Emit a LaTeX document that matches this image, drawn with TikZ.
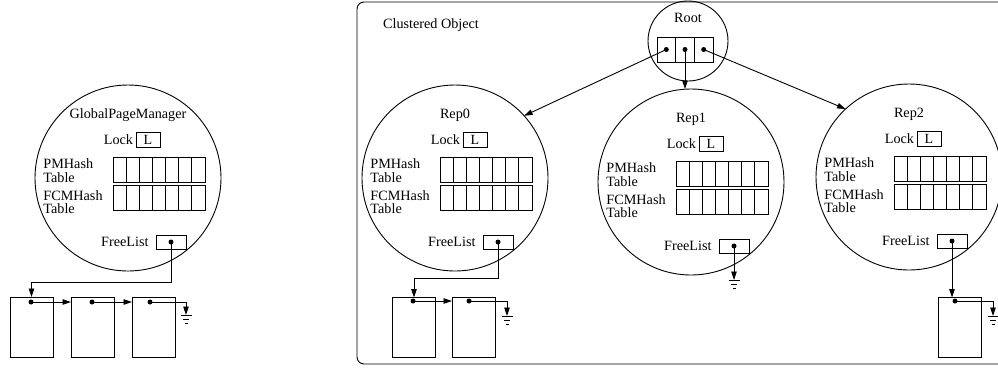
\documentclass[tikz,border=0pt]{standalone}
\usepackage{fontspec}
\setmainfont{Liberation Serif}
\usetikzlibrary{arrows.meta}
\newcommand\repmod[4]{%
\begin{scope}[shift={(#2,#3)}]
\node[modcirc] (#1) at (0,0) {};
\node[lbl] (#1-title) at (0,-63) {#4};
\node[lbox] (#1-L) at (20,-38) {L};
\node[lbl, anchor=east] (#1-lock) at ([xshift=-2.5pt]#1-L.west) {Lock};
\node[tbl] (#1-pm) at (31,-8.5) {};
\node[tbl] (#1-fcm) at (31,19.5) {};
\foreach \k in {1,...,6}{%
  \draw ([xshift=\k*13.143pt]#1-pm.south west) -- ([xshift=\k*13.143pt]#1-pm.north west);
  \draw ([xshift=\k*13.143pt]#1-fcm.south west) -- ([xshift=\k*13.143pt]#1-fcm.north west);}
\node[lbl, align=left, anchor=west] (#1-pmlbl) at (-85,-7.5) {PMHash\\Table};
\node[lbl, align=left, anchor=west] (#1-fcmlbl) at (-85,24) {FCMHash\\Table};
\node[flbox] (#1-fl) at (43,64) {};
\node[lbl, anchor=east] (#1-fltext) at ([xshift=-7pt]#1-fl.west) {FreeList};
\fill (#1-fl.center) circle (2.5);
\end{scope}}
\newcommand\gnd[1]{\draw (#1) ++(-5.5,0) -- ++(11,0) (#1) ++(-3,4) -- ++(6,0) (#1) ++(-1.5,8) -- ++(3,0);}
\begin{document}
\begin{tikzpicture}[x=1pt,y=-1pt, line width=0.9pt,
 lbl/.style={inner sep=0pt, font=\fontsize{14.2pt}{13.5pt}\selectfont},
 modcirc/.style={draw, circle, minimum size=186pt, inner sep=0pt, outer sep=0pt},
 lbox/.style={draw, minimum width=24pt, minimum height=15pt, inner sep=0pt, outer sep=0pt, font=\fontsize{14pt}{14pt}\selectfont},
 tbl/.style={draw, minimum width=92pt, minimum height=25pt, inner sep=0pt, outer sep=0pt},
 flbox/.style={draw, minimum width=30pt, minimum height=14pt, inner sep=0pt, outer sep=0pt},
 lstbox/.style={draw, minimum width=43pt, minimum height=60pt, inner sep=0pt, outer sep=0pt},
 cell/.style={draw, minimum width=18.7pt, minimum height=25pt, inner sep=0pt, outer sep=0pt},
 ptr/.style={-{Triangle[length=8.5pt,width=5.5pt]}}
]
\useasboundingbox (0,0) rectangle (998,368);
\clip (0,0) rectangle (998,368);
% clustered object frame
\draw[rounded corners=7pt] (357,2) rectangle (1010,364);
\node[lbl] (cotitle) at (431,25) {Clustered Object};
% modules
\repmod{gpm}{128}{178}{GlobalPageManager}
\repmod{rep0}{455}{178}{Rep0}
\repmod{rep1}{691}{182}{Rep1}
\repmod{rep2}{909}{177}{Rep2}
% root
\node[draw, circle, minimum size=80pt, inner sep=0pt, outer sep=0pt] (root) at (688,41) {};
\node[lbl] (root-title) at (688,18) {Root};
\node[cell] (root-a) at (666.3,49.5) {};
\node[cell] (root-b) at (685,49.5) {};
\node[cell] (root-c) at (703.7,49.5) {};
\fill (root-a.center) circle (2.5) (root-b.center) circle (2.5) (root-c.center) circle (2.5);
\draw[ptr] (root-a.center) -- (rep0.42);
\draw[ptr] (root-b.center) -- (root-b.center |- rep1.north);
\draw[ptr] (root-c.center) -- (rep2.133);
% GPM free list
\node[lstbox] (l1) at (31.5,327) {};
\node[lstbox] (l2) at (92.5,327) {};
\node[lstbox] (l3) at (153.5,327) {};
\coordinate (d1) at (31,302);
\coordinate (d2) at (92,302);
\coordinate (d3) at (150,302);
\coordinate (g0) at (186,315);
\fill (d1) circle (2.5) (d2) circle (2.5) (d3) circle (2.5);
\draw[ptr] (gpm-fl.center) -- ++(0,40) -| (l1.north);
\draw[ptr] (d1) -- (d1 -| l2.west);
\draw[ptr] (d2) -- (d2 -| l3.west);
\draw[ptr] (d3) -| (g0);
\gnd{g0}
% Rep0 free list
\node[lstbox] (r0a) at (414,327.5) {};
\node[lstbox] (r0b) at (473.5,327.5) {};
\coordinate (d4) at (413,301);
\coordinate (d5) at (469,301);
\coordinate (g1) at (507,316);
\fill (d4) circle (2.5) (d5) circle (2.5);
\draw[ptr] (rep0-fl.center) -- ++(0,36) -| (r0a.north);
\draw[ptr] (d4) -- (d4 -| r0b.west);
\draw[ptr] (d5) -| (g1);
\gnd{g1}
% Rep1 free list
\path (rep1-fl.center) ++(0,34) coordinate (g2);
\draw[ptr] (rep1-fl.center) -- (g2);
\gnd{g2}
% Rep2 free list
\node[lstbox] (r2a) at (960,327.5) {};
\coordinate (d6) at (955,301);
\coordinate (g3) at (993,316);
\fill (d6) circle (2.5);
\draw[ptr] (rep2-fl.center) -- (rep2-fl.center |- r2a.north);
\draw[ptr] (d6) -| (g3);
\gnd{g3}
\end{tikzpicture}
\end{document}
